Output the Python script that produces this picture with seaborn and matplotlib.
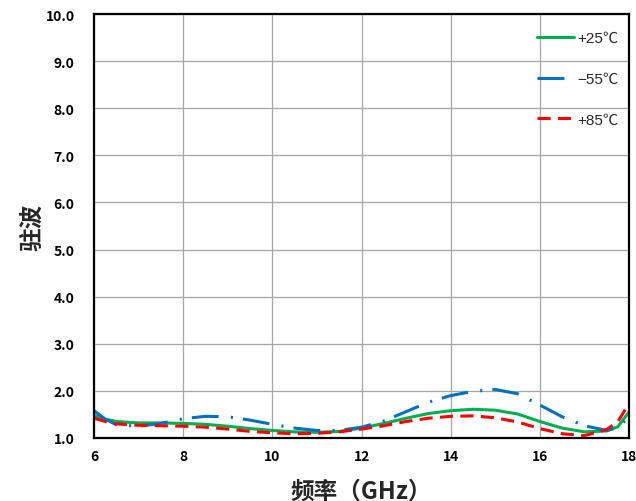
import matplotlib
matplotlib.use("Agg")
import matplotlib.pyplot as plt
from matplotlib.ticker import MultipleLocator, FormatStrFormatter
from matplotlib.lines import Line2D
import seaborn as sns
import pandas as pd

freq = [6.0, 6.25, 6.5, 7.0, 7.5, 8.0, 8.5, 9.0, 9.5, 10.0, 10.5, 11.0, 11.5,
        12.0, 12.5, 13.0, 13.5, 14.0, 14.5, 15.0, 15.5, 16.0, 16.5, 17.0,
        17.5, 17.75, 18.0]
vswr_p25 = [1.48, 1.40, 1.35, 1.32, 1.32, 1.31, 1.29, 1.25, 1.20, 1.16, 1.13,
            1.12, 1.14, 1.21, 1.31, 1.42, 1.52, 1.58, 1.61, 1.59, 1.51, 1.35,
            1.21, 1.13, 1.15, 1.24, 1.55]
vswr_m55 = [1.58, 1.40, 1.28, 1.25, 1.31, 1.41, 1.46, 1.45, 1.38, 1.29, 1.21,
            1.16, 1.16, 1.23, 1.36, 1.56, 1.76, 1.90, 1.99, 2.03, 1.94, 1.70,
            1.45, 1.26, 1.16, 1.22, 1.45]
vswr_p85 = [1.42, 1.35, 1.30, 1.27, 1.26, 1.25, 1.23, 1.19, 1.14, 1.11, 1.09,
            1.10, 1.13, 1.19, 1.26, 1.35, 1.42, 1.46, 1.47, 1.43, 1.34, 1.20,
            1.09, 1.05, 1.18, 1.35, 1.73]
labels = ["+25℃", "−55℃", "+85℃"]
colors = ["#00B050", "#0070C0", "#FF0000"]

sns.set_style("white")
plt.rcParams['font.family'] = ['Noto Sans CJK SC', 'DejaVu Sans']

df = pd.concat([
    pd.DataFrame({"freq": freq, "vswr": v, "temp": lab})
    for v, lab in zip([vswr_p25, vswr_m55, vswr_p85], labels)
])

fig = plt.figure(figsize=(6.36, 5.02), dpi=100)
ax = fig.add_axes([0.148, 0.1255, 0.841, 0.8445])

dash_m55 = (8.8, 4.0, 0.7, 3.3)
dash_p85 = (4.3, 2.4)
dash_map = {labels[0]: "", labels[1]: dash_m55, labels[2]: dash_p85}
sns.lineplot(data=df, x="freq", y="vswr", hue="temp", style="temp",
             palette=dict(zip(labels, colors)), dashes=dash_map,
             linewidth=2.2, ax=ax, legend=False, sort=True)

ax.set_xlim(6, 18)
ax.set_ylim(1.0, 10.0)
ax.xaxis.set_major_locator(MultipleLocator(2))
ax.xaxis.set_minor_locator(MultipleLocator(0.4))
ax.yaxis.set_major_locator(MultipleLocator(1))
ax.yaxis.set_minor_locator(MultipleLocator(0.5))
ax.yaxis.set_major_formatter(FormatStrFormatter("%.1f"))
ax.xaxis.set_major_formatter(FormatStrFormatter("%d"))
ax.grid(True, which="major", color="#a6a6a6", linewidth=0.9)
ax.tick_params(which="both", direction="in", colors="black")
ax.tick_params(which="major", length=0, pad=8)
ax.tick_params(which="minor", length=4, width=1.2)
ax.tick_params(axis="y", which="major", pad=14)
for lab in ax.get_xticklabels() + ax.get_yticklabels():
    lab.set_fontweight("bold")
    lab.set_fontsize(10)
for sp in ax.spines.values():
    sp.set_visible(True)
    sp.set_color("black")
    sp.set_linewidth(1.6)

ax.set_xlabel("频率（GHz）", fontsize=17, fontweight="bold", labelpad=11)
ax.set_ylabel("驻波", fontsize=17, fontweight="bold", labelpad=1)

handles = [
    Line2D([], [], color=colors[0], lw=2.2, linestyle="-"),
    Line2D([], [], color=colors[1], lw=2.2, dashes=dash_m55),
    Line2D([], [], color=colors[2], lw=2.2, dashes=dash_p85),
]
ax.legend(handles, labels, loc="upper right", frameon=False,
          prop={"family": ["Liberation Sans", "Noto Sans CJK SC"], "size": 11},
          handlelength=2.4, handletextpad=0.2, labelspacing=1.75,
          borderaxespad=0.3, bbox_to_anchor=(1.0, 0.985))

fig.savefig("out.png", dpi=100)
